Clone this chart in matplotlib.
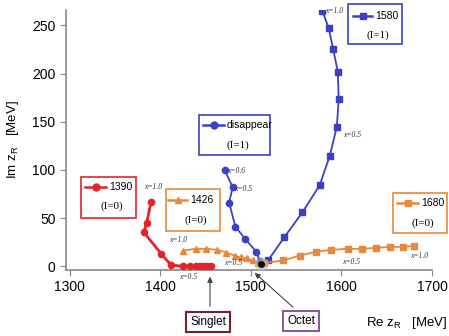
import matplotlib
matplotlib.use("Agg")
import matplotlib.pyplot as plt
from matplotlib.lines import Line2D
from matplotlib.patches import Rectangle

# pole trajectories (Re z_R, Im z_R) in MeV
red_re = [1390, 1385, 1382, 1401, 1412, 1425, 1433, 1439, 1444, 1448, 1452, 1456]
red_im = [67, 45, 35, 13, 1, 0, 0, 0, 0, 0, 0, 0]

tri_re = [1425, 1439, 1451, 1463, 1473, 1482, 1489, 1496, 1502, 1508]
tri_im = [16, 18, 18, 17, 14, 11, 9, 8, 6, 3]

dis_re = [1471, 1480, 1476, 1483, 1494, 1506, 1510]
dis_im = [100, 82, 66, 41, 28, 15, 5]

sq1580_re = [1579, 1586, 1591, 1596, 1597, 1595, 1587, 1576, 1557, 1537, 1519]
sq1580_im = [265, 247, 225, 202, 174, 145, 114, 84, 56, 30, 6]

sq1680_re = [1515, 1536, 1554, 1572, 1589, 1607, 1623, 1638, 1654, 1668, 1680]
sq1680_im = [3, 6, 11, 15, 17, 18, 18, 19, 20, 20, 21]

xticks = [1300, 1400, 1500, 1600, 1700]
yticks = [0, 50, 100, 150, 200, 250]

RED = "#e3242b"
ORANGE = "#e8883a"
BLUE = "#3b40c4"

W, H = 449, 336
fig = plt.figure(figsize=(W / 100, H / 100), dpi=100)
ax = fig.add_axes([66 / W, 1 - 270 / H, (432 - 66) / W, (270 - 10) / H])


def fx(px):
    return px / W


def fy(py):
    return 1 - py / H


ax.plot(red_re, red_im, "-o", color=RED, lw=2, ms=4.5, zorder=3)
ax.plot(tri_re, tri_im, "-^", color=ORANGE, lw=1.3, ms=5, zorder=3)
ax.plot(dis_re, dis_im, "-o", color=BLUE, lw=1.3, ms=4.5, zorder=3)
ax.plot(sq1580_re, sq1580_im, "-s", color=BLUE, lw=1.3, ms=4.5, zorder=3)
ax.plot(sq1680_re, sq1680_im, "-s", color=ORANGE, lw=1.3, ms=4.5, zorder=3)

# convergence blob
ax.scatter([1511], [2], s=90, color="#bbbbbb", alpha=0.6, zorder=4, lw=0)
ax.scatter([1511], [2], s=25, color="black", zorder=5, lw=0)

# x labels on trajectories
small = dict(fontsize=5.5, family="Liberation Serif", style="italic", color="#333333")
ax.text(1382, 80, "x=1.0", **small)
ax.text(1421, -13, "x=0.5", clip_on=False, **small)
ax.text(1410, 25, "x=1.0", **small)
ax.text(1471, 1, "x=0.5", **small)
ax.text(1474, 97, "x=0.6", **small)
ax.text(1482, 78, "x=0.5", **small)
ax.text(1582, 263, "x=1.0", **small)
ax.text(1602, 134, "x=0.5", **small)
ax.text(1601, 2, "x=0.5", **small)
ax.text(1676, 8, "x=1.0", **small)

ax.set_xlim(1296, 1700)
ax.set_ylim(-4, 266)
ax.set_xticks(xticks)
ax.set_yticks(yticks)
for s in ["top", "right"]:
    ax.spines[s].set_visible(False)
for s in ["left", "bottom"]:
    ax.spines[s].set_color("#888888")
    ax.spines[s].set_linewidth(1.2)
ax.tick_params(colors="#888888", labelcolor="black", length=4, labelsize=10)
for lab in ax.get_xticklabels() + ax.get_yticklabels():
    lab.set_family("Liberation Sans")

fig.text(fx(407), fy(323), r"Re z$_\mathregular{R}$   [MeV]", ha="center", va="center",
         fontsize=9.5, family="Liberation Sans")
fig.text(fx(13), fy(140), r"Im z$_\mathregular{R}$   [MeV]", ha="center", va="center",
         rotation=90, fontsize=9.5, family="Liberation Sans")


# per-series legend boxes
def legend_box(x0, y0, x1, y1, color, marker, name, iso, lx0, lx1, ly, ny):
    fig.add_artist(Rectangle((fx(x0), fy(y1)), fx(x1 - x0), (y1 - y0) / H,
                             fill=False, edgecolor=color, lw=1.2))
    fig.add_artist(Line2D([fx(lx0), fx(lx1)], [fy(ly), fy(ly)], color=color, lw=1.8))
    fig.add_artist(Line2D([fx((lx0 + lx1) / 2)], [fy(ly)], color=color,
                          marker=marker, ms=5))
    fig.text(fx(lx1 + 3), fy(ly), name, va="center", ha="left", fontsize=7.5,
             family="Liberation Sans")
    fig.text(fx((x0 + x1) / 2 + 3), fy(ny), iso, va="center", ha="center", fontsize=8,
             family="Liberation Serif")


legend_box(81, 177, 136, 218, RED, "o", "1390", "(I=0)", 85, 106, 187, 206)
legend_box(166, 189, 220, 231, ORANGE, "^", "1426", "(I=0)", 168, 187, 200, 220)
legend_box(199, 115, 270, 155, BLUE, "o", "disappear", "(I=1)", 203, 224, 125, 145)
legend_box(348, 4, 402, 44, BLUE, "s", "1580", "(I=1)", 353, 372, 16, 35)
legend_box(393, 193, 447, 233, ORANGE, "s", "1680", "(I=0)", 397, 418, 203, 223)

# Singlet / Octet annotations
ax.annotate("", xy=(1455, -8), xycoords="data",
            xytext=(fx(210), fy(309)), textcoords="figure fraction",
            arrowprops=dict(arrowstyle="-|>", color="#444444", lw=0.8, mutation_scale=8),
            annotation_clip=False)
ax.annotate("", xy=(1502, -5), xycoords="data",
            xytext=(fx(295), fy(309)), textcoords="figure fraction",
            arrowprops=dict(arrowstyle="-|>", color="#444444", lw=0.8, mutation_scale=8),
            annotation_clip=False)
fig.text(fx(208), fy(322), "Singlet", ha="center", va="center", fontsize=8.5,
         family="Liberation Sans",
         bbox=dict(boxstyle="square,pad=0.35", fc="white", ec="#7a1f2b", lw=1.5))
fig.text(fx(301), fy(321), "Octet", ha="center", va="center", fontsize=8.5,
         family="Liberation Sans",
         bbox=dict(boxstyle="square,pad=0.35", fc="white", ec="#8a5a9a", lw=1.5))

fig.savefig("out.png", dpi=100)
